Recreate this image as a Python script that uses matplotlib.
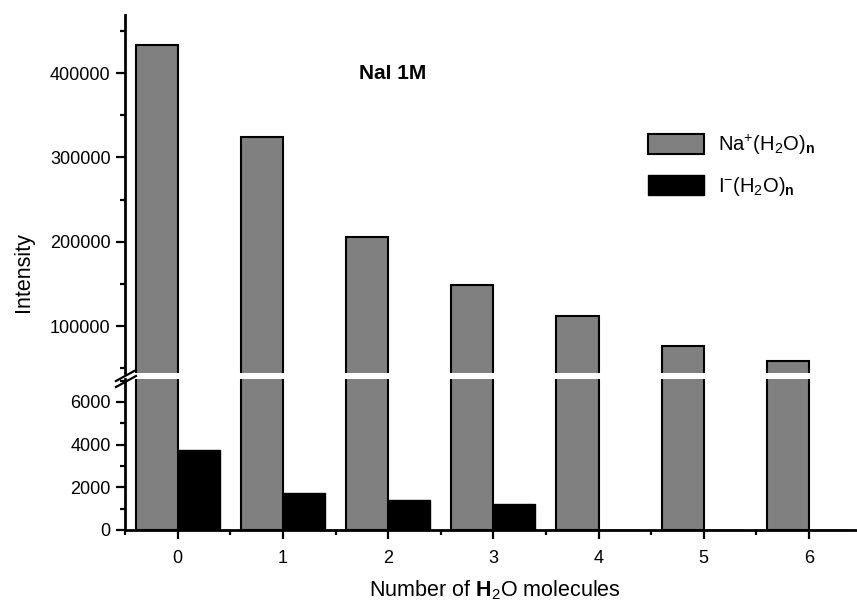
import matplotlib
matplotlib.use("Agg")
import matplotlib.pyplot as plt
from matplotlib.ticker import MultipleLocator, FixedLocator
from matplotlib.lines import Line2D

plt.rcParams['font.family'] = ['Liberation Sans', 'DejaVu Sans']
plt.rcParams['mathtext.fontset'] = 'custom'
plt.rcParams['mathtext.rm'] = 'Liberation Sans'
plt.rcParams['mathtext.it'] = 'Liberation Sans'
plt.rcParams['mathtext.bf'] = 'Liberation Sans:bold'

# ---- data ----
n_water = [0, 1, 2, 3, 4, 5, 6]
na_intensity = [433000, 324000, 206000, 148500, 112000, 76000, 58500]
i_intensity = [3750, 1750, 1385, 1230, 0, 0, 0]
x_ticklabels = ['0', '1', '2', '3', '4', '5', '6']
top_yticks = [100000, 200000, 300000, 400000]
bottom_yticks = [0, 2000, 4000, 6000]

W, H = 857, 605
fig = plt.figure(figsize=(W / 100, H / 100), dpi=100)

def fx(px):
    return px / W

def fy(py):
    return 1 - py / H

left = fx(125.1)
right = 1.0
ax_top = fig.add_axes([left, fy(373), right - left, fy(15) - fy(373)])
ax_bot = fig.add_axes([left, fy(530), right - left, fy(379) - fy(530)])

gray = '#808080'
bw = 0.4
for ax in (ax_top, ax_bot):
    ax.bar([x - bw / 2 for x in n_water], na_intensity, width=bw,
           color=gray, edgecolor='black', linewidth=1.5,
           label=r'Na$^{+}$(H$_2$O)$_{\mathbf{n}}$')
    ax.bar([x + bw / 2 for x in n_water], i_intensity, width=bw,
           color='black', edgecolor='black', linewidth=1.0,
           label=r'I$^{-}$(H$_2$O)$_{\mathbf{n}}$')
    ax.set_xlim(-0.5, 6.457)
    for s in ('top', 'right'):
        ax.spines[s].set_visible(False)
    ax.spines['left'].set_linewidth(2.0)
    ax.spines['bottom'].set_linewidth(2.0)
    ax.tick_params(axis='both', which='major', direction='out', length=6.5,
                   width=1.6, labelsize=13)
    ax.tick_params(axis='both', which='minor', direction='out', length=3.8,
                   width=1.6)
    ax.tick_params(axis='y', which='major', pad=4)

ax_top.set_ylim(44300, 468800)
ax_top.yaxis.set_major_locator(FixedLocator(top_yticks))
ax_top.yaxis.set_minor_locator(MultipleLocator(50000))
ax_top.spines['bottom'].set_visible(False)
ax_top.tick_params(axis='x', which='both', bottom=False, labelbottom=False)

ax_bot.set_ylim(0, 7077)
ax_bot.yaxis.set_major_locator(FixedLocator(bottom_yticks))
ax_bot.yaxis.set_minor_locator(MultipleLocator(1000))
ax_bot.set_xticks(n_water)
ax_bot.set_xticklabels(x_ticklabels)
ax_bot.xaxis.set_minor_locator(MultipleLocator(0.5))
ax_bot.tick_params(axis='x', which='major', pad=8)

# break marks on the left spine
for dy in (0, 6):
    fig.add_artist(Line2D([fx(116), fx(136)], [fy(381 + dy), fy(370 + dy)],
                          color='black', linewidth=1.6))

# labels
fig.text(fx(23), fy(272.5), 'Intensity', rotation=90, ha='center',
         va='center', fontsize=15.5)
fig.text(fx(495), fy(590), r'Number of $\mathbf{H}_{2}$O molecules',
         ha='center', va='center', fontsize=15.5)
ax_top.text(2.04, 400000, 'NaI 1M', fontsize=15, fontweight='bold',
            ha='center', va='center')

handles, labels = ax_top.get_legend_handles_labels()
leg = ax_top.legend(handles, labels, loc='upper left',
                    bbox_to_anchor=(fx(648), fy(133)),
                    bbox_transform=fig.transFigure, frameon=False,
                    fontsize=14.5, handlelength=2.8, handleheight=1.15,
                    labelspacing=0.9, borderpad=0, borderaxespad=0,
                    handletextpad=0.7)

fig.savefig('out.png', dpi=100)
